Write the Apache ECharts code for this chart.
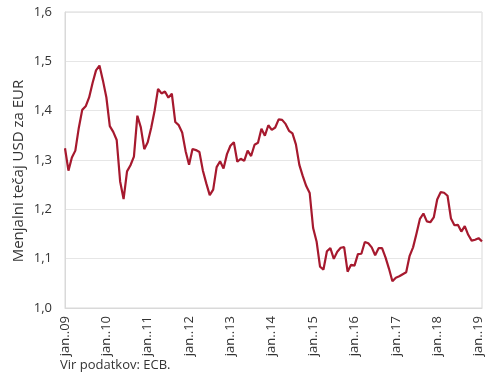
<!DOCTYPE html>
<html><head><meta charset="utf-8">
<script src="https://cdn.jsdelivr.net/npm/echarts@6/dist/echarts.min.js"></script>
<style>html,body{margin:0;padding:0;background:#fff}#c{width:490px;height:381px}</style>
</head><body><div id="c"></div>
<script>
const monthNames = ['jan','feb','mar','apr','maj','jun','jul','avg','sep','okt','nov','dec'];
const years = ['09','10','11','12','13','14','15','16','17','18','19'];
const rate2009 = [1.3239,1.2785,1.3050,1.3190,1.3650,1.4016,1.4088,1.4268,1.4562,1.4816,1.4914,1.4614];
const rate2010 = [1.4272,1.3686,1.3569,1.3406,1.2565,1.2209,1.2770,1.2894,1.3067,1.3898,1.3661,1.3220];
const rate2011 = [1.3360,1.3649,1.3999,1.4442,1.4349,1.4388,1.4264,1.4343,1.3770,1.3706,1.3556,1.3179];
const rate2012 = [1.2905,1.3224,1.3201,1.3162,1.2789,1.2526,1.2288,1.2400,1.2856,1.2974,1.2828,1.3119];
const rate2013 = [1.3288,1.3359,1.2964,1.3026,1.2982,1.3189,1.3080,1.3310,1.3348,1.3635,1.3493,1.3704];
const rate2014 = [1.3610,1.3659,1.3823,1.3813,1.3732,1.3592,1.3539,1.3316,1.2901,1.2673,1.2472,1.2331];
const rate2015 = [1.1621,1.1350,1.0838,1.0779,1.1150,1.1213,1.0996,1.1139,1.1221,1.1235,1.0736,1.0877];
const rate2016 = [1.0860,1.1093,1.1100,1.1339,1.1311,1.1229,1.1069,1.1212,1.1212,1.1026,1.0799,1.0543];
const rate2017 = [1.0614,1.0643,1.0685,1.0723,1.1058,1.1229,1.1511,1.1807,1.1915,1.1756,1.1738,1.1836];
const rate2018 = [1.2200,1.2348,1.2336,1.2276,1.1812,1.1678,1.1686,1.1549,1.1659,1.1484,1.1367,1.1384];
const rate2019 = [1.1416,1.1351];
const values = [].concat(rate2009,rate2010,rate2011,rate2012,rate2013,rate2014,rate2015,rate2016,rate2017,rate2018,rate2019);
const categories = [];
for (const y of years) for (const m of monthNames) if (categories.length < values.length) categories.push(m + '..' + y);
const yTicks = ['1,0','1,1','1,2','1,3','1,4','1,5','1,6'];
const yTitle = 'Menjalni tečaj USD za EUR';
const source = 'Vir podatkov: ECB.';

const chart = echarts.init(document.getElementById('c'));
const font = '"Open Sans", "Noto Sans", sans-serif';
chart.setOption({
  animation: false,
  textStyle: {fontFamily: font},
  grid: {left: 65, right: 8, top: 12, bottom: 73, show: true, borderColor: '#d9d9d9', borderWidth: 1},
  xAxis: {
    type: 'category', data: categories, boundaryGap: false,
    axisLine: {lineStyle: {color: '#d9d9d9'}},
    axisTick: {show: false},
    axisLabel: {rotate: 90, interval: 11, color: '#333', fontSize: 13, fontFamily: font, margin: 8},
    splitLine: {show: false}
  },
  yAxis: {
    type: 'value', min: 1.0, max: 1.6, interval: 0.1,
    axisLine: {show: true, lineStyle: {color: '#d9d9d9'}},
    axisTick: {show: false},
    axisLabel: {color: '#333', fontSize: 13, fontFamily: font, margin: 13,
      formatter: v => yTicks[Math.round((v - 1.0) * 10)]},
    splitLine: {lineStyle: {color: '#e6e6e6'}}
  },
  series: [{type: 'line', data: values, showSymbol: false, symbol: 'none',
    lineStyle: {color: '#a6192e', width: 2.2}, itemStyle: {color: '#a6192e'}}],
  graphic: [
    {type: 'text', x: 19, y: 171, rotation: Math.PI / 2,
      style: {text: yTitle, fill: '#333', fontSize: 15, fontFamily: font, align: 'center', verticalAlign: 'middle'}},
    {type: 'text', left: 60, top: 359,
      style: {text: source, fill: '#333', fontSize: 13, fontFamily: font}}
  ]
});
</script></body></html>
